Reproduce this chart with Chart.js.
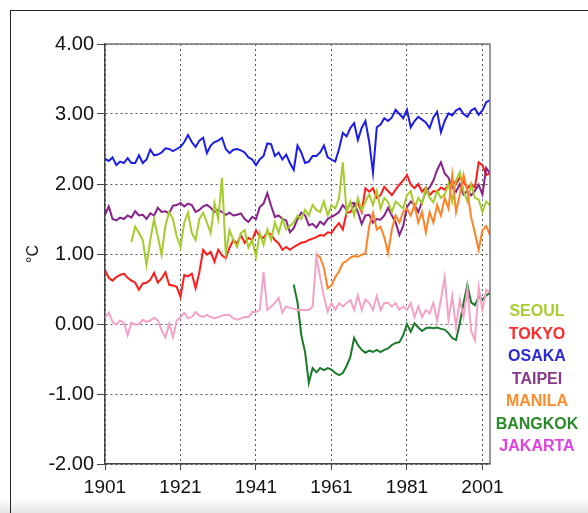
<!DOCTYPE html>
<html>
<head>
<meta charset="utf-8">
<script src="https://cdn.jsdelivr.net/npm/chart.js@4.4.0/dist/chart.umd.min.js"></script>
<style>
  html, body { margin: 0; padding: 0; background: #fff; }
  #wrap { position: relative; width: 588px; height: 513px; overflow: hidden; }
  #shade { position: absolute; left: 0; right: 0; bottom: 0; height: 14px; background: linear-gradient(#fff, #e4e4e4); }
  #frame { position: absolute; left: 10px; top: 10px; right: -2px; bottom: -2px; border-left: 1px solid #222; border-top: 1px solid #222; }
  canvas { position: absolute; left: 0; top: 0; }
</style>
</head>
<body>
<div id="wrap">
  <div id="shade"></div>
  <div id="frame"></div>
  <canvas id="temp-canvas" width="588" height="513"></canvas>
</div>
<script>
// annual temperature anomaly series, 1901-2003
var firstYear = 1901;
var lastYear = 2003;
var xTicks = [1901, 1921, 1941, 1961, 1981, 2001];

var cities = ['SEOUL', 'TOKYO', 'OSAKA', 'TAIPEI', 'MANILA', 'BANGKOK', 'JAKARTA'];
var lineColors = ['#a4cc2c', '#ff1c1c', '#1c1ce8', '#86228a', '#ff8226', '#1a7a2c', '#f4a2c6'];
var legendColors = ['#a8cc30', '#ff2a2a', '#2a2ad8', '#8b3a8b', '#ff8c2a', '#2a8a2a', '#e040e0'];

var osaka = [
  2.36, 2.33, 2.38, 2.27, 2.32, 2.30, 2.37, 2.30, 2.30, 2.41,
  2.30, 2.35, 2.49, 2.41, 2.42, 2.45, 2.51, 2.50, 2.47, 2.50,
  2.53, 2.60, 2.70, 2.60, 2.53, 2.62, 2.66, 2.44, 2.55, 2.60,
  2.62, 2.66, 2.50, 2.44, 2.49, 2.50, 2.48, 2.45, 2.38, 2.35,
  2.27, 2.35, 2.40, 2.58, 2.57, 2.40, 2.45, 2.35, 2.42, 2.30,
  2.20, 2.55, 2.45, 2.30, 2.32, 2.40, 2.40, 2.45, 2.55, 2.38,
  2.35, 2.32, 2.50, 2.73, 2.68, 2.80, 2.87, 2.63, 2.80, 2.90,
  2.60, 2.16, 2.81, 2.85, 2.94, 2.90, 2.95, 3.06, 3.00, 2.94,
  3.06, 2.81, 2.90, 2.96, 2.92, 2.88, 2.80, 2.95, 3.03, 2.74,
  2.90, 3.01, 2.98, 3.05, 3.08, 3.00, 2.96, 3.05, 3.08, 2.99,
  3.05, 3.17, 3.20
];

var taipei = [
  1.56, 1.68, 1.50, 1.48, 1.52, 1.50, 1.55, 1.52, 1.61, 1.55,
  1.56, 1.50, 1.58, 1.55, 1.66, 1.60, 1.61, 1.58, 1.69, 1.70,
  1.73, 1.68, 1.72, 1.70, 1.60, 1.63, 1.68, 1.70, 1.66, 1.60,
  1.63, 1.60, 1.56, 1.59, 1.55, 1.56, 1.58, 1.50, 1.46, 1.53,
  1.50, 1.67, 1.72, 1.87, 1.69, 1.53, 1.55, 1.50, 1.48, 1.31,
  1.37, 1.50, 1.59, 1.55, 1.41, 1.43, 1.38, 1.46, 1.42, 1.50,
  1.53, 1.56, 1.60, 1.70, 1.63, 1.72, 1.73, 1.60, 1.43, 1.55,
  1.56, 1.45, 1.50, 1.49, 1.55, 1.66, 1.55, 1.45, 1.27, 1.40,
  1.67, 1.75, 1.70, 1.60, 1.75, 1.89, 1.95, 2.05, 2.20, 2.31,
  2.15, 2.09, 1.95, 1.89, 2.00, 1.85, 1.90, 1.84, 1.90, 1.99,
  1.85, 2.23, 2.15
];

var tokyo = [
  0.77, 0.66, 0.62, 0.67, 0.70, 0.72, 0.66, 0.62, 0.59, 0.49,
  0.58, 0.59, 0.63, 0.73, 0.59, 0.65, 0.74, 0.56, 0.55, 0.53,
  0.39, 0.70, 0.68, 0.72, 0.51, 0.74, 1.06, 0.99, 1.03, 0.89,
  1.06, 0.98, 0.94, 1.09, 1.20, 1.15, 1.27, 1.16, 1.23, 1.20,
  1.34, 1.25, 1.23, 1.31, 1.28, 1.20, 1.15, 1.06, 1.10, 1.06,
  1.10, 1.13, 1.16, 1.17, 1.20, 1.22, 1.24, 1.27, 1.26, 1.31,
  1.30, 1.38, 1.44, 1.35, 1.59, 1.60, 1.70, 1.73, 1.60, 1.94,
  1.89, 1.94, 1.80, 1.84, 1.96, 1.90, 1.84, 1.92, 1.99, 2.05,
  2.13, 1.99, 1.94, 2.00, 1.89, 1.95, 1.84, 1.90, 1.89, 1.95,
  1.92, 1.99, 2.05, 2.00, 2.09, 2.03, 1.94, 2.00, 1.95, 2.31,
  2.27, 2.13, 2.15
];

var seoulStart = 1908;
var seoul = [
  1.17, 1.39, 1.30,
  1.20, 0.84, 1.20, 1.50, 1.25, 0.99, 1.40, 1.60, 1.50, 1.25,
  1.10, 1.45, 1.59, 1.30, 1.20, 1.50, 1.59, 1.45, 1.30, 1.73,
  1.50, 2.09, 1.00, 1.34, 1.20, 1.10, 1.30, 1.34, 1.09, 1.20,
  0.96, 1.30, 1.13, 1.35, 1.20, 1.45, 1.30, 1.50, 1.35, 1.40,
  1.45, 1.55, 1.50, 1.63, 1.55, 1.70, 1.63, 1.60, 1.75, 1.55,
  1.70, 1.65, 1.80, 2.31, 1.60, 1.75, 1.55, 1.80, 1.62, 1.75,
  1.85, 1.70, 1.90, 1.65, 1.80, 1.74, 1.60, 1.75, 1.70, 1.65,
  1.84, 1.90, 1.66, 1.80, 1.72, 1.94, 1.80, 1.74, 1.90, 1.80,
  1.85, 2.00, 1.75, 2.05, 2.17, 1.90, 1.75, 2.00, 1.80, 1.78,
  1.60, 1.75, 1.70
];

var manilaStart = 1957;
var manila = [
  1.00, 0.95, 0.80, 0.51,
  0.55, 0.67, 0.75, 0.87, 0.90, 0.95, 0.97, 0.96, 0.99, 1.01,
  1.40, 1.59, 1.35, 1.39, 1.24, 1.01, 1.35, 1.55, 1.45, 1.60,
  1.65, 1.55, 1.70, 1.45, 1.60, 1.31, 1.60, 1.45, 1.70, 1.55,
  1.80, 1.65, 2.13, 1.60, 1.85, 2.13, 1.90, 1.53, 1.30, 1.06,
  1.34, 1.40, 1.27
];

var bangkokStart = 1951;
var bangkok = [
  0.56, 0.31, -0.16, -0.40, -0.84, -0.63, -0.69, -0.63, -0.66, -0.63,
  -0.65, -0.70, -0.73, -0.70, -0.60, -0.47, -0.20, -0.30, -0.37, -0.41,
  -0.38, -0.40, -0.37, -0.40, -0.37, -0.35, -0.30, -0.27, -0.26, -0.16,
  0.00, -0.11, 0.01, -0.05, -0.10, -0.06, -0.05, -0.06, -0.05, -0.07,
  -0.08, -0.13, -0.20, -0.23, 0.01, 0.30, 0.56, 0.31, 0.27, 0.39,
  0.35, 0.41, 0.44
];

var jakarta = [
  0.09, 0.16, 0.03, -0.01, 0.05, 0.02, -0.16, 0.02, -0.01, 0.00,
  0.06, 0.03, 0.05, 0.09, 0.05, -0.09, -0.19, 0.00, -0.19, 0.05,
  0.10, 0.16, 0.08, 0.10, 0.17, 0.12, 0.10, 0.13, 0.10, 0.08,
  0.10, 0.12, 0.13, 0.13, 0.08, 0.06, 0.08, 0.10, 0.10, 0.17,
  0.17, 0.20, 0.74, 0.20, 0.25, 0.30, 0.37, 0.16, 0.25, 0.23,
  0.22, 0.20, 0.20, 0.20, 0.20, 0.25, 0.96, 0.67, 0.39, 0.18,
  0.30, 0.20, 0.30, 0.25, 0.30, 0.34, 0.20, 0.41, 0.20, 0.35,
  0.30, 0.20, 0.40, 0.20, 0.30, 0.30, 0.25, 0.30, 0.20, 0.25,
  0.20, 0.30, 0.10, 0.25, 0.10, 0.20, 0.15, 0.30, 0.05, 0.35,
  0.67, 0.06, 0.40, -0.05, 0.35, 0.10, 0.50, -0.10, -0.23, 0.53,
  0.20, 0.49, 0.45
];

// year labels for the linear x axis
var years = [];
for (var y = firstYear; y <= lastYear; y++) years.push(y);

// pad a late-starting series with nulls so it lines up with the years
function fromYear(start, values) {
  var out = [];
  for (var y = firstYear; y < start; y++) out.push(null);
  return out.concat(values);
}

var seriesByCity = {
  SEOUL: fromYear(seoulStart, seoul),
  TOKYO: tokyo,
  OSAKA: osaka,
  TAIPEI: taipei,
  MANILA: fromYear(manilaStart, manila),
  BANGKOK: fromYear(bangkokStart, bangkok),
  JAKARTA: jakarta
};

// draw order: back to front
var drawOrder = ['JAKARTA', 'BANGKOK', 'MANILA', 'SEOUL', 'TAIPEI', 'TOKYO', 'OSAKA'];

let datasets = drawOrder.map(function (name) {
  var i = cities.indexOf(name);
  return {
    label: name,
    data: seriesByCity[name],
    borderColor: lineColors[i],
    backgroundColor: lineColors[i],
    borderWidth: 2,
    pointRadius: 0,
    tension: 0
  };
});

// box around the plot and the coloured city list
const plotFrame = {
  id: 'plotFrame',
  afterDatasetsDraw(chart) {
    const a = chart.chartArea;
    const ctx = chart.ctx;
    ctx.save();
    ctx.strokeStyle = '#777';
    ctx.lineWidth = 1.5;
    ctx.beginPath();
    ctx.moveTo(a.left, a.top);
    ctx.lineTo(a.right, a.top);
    ctx.lineTo(a.right, a.bottom);
    ctx.stroke();
    ctx.restore();
  }
};

const cityLegend = {
  id: 'cityLegend',
  afterDraw(chart) {
    const a = chart.chartArea;
    const ctx = chart.ctx;
    ctx.save();
    ctx.font = 'bold 16px "Liberation Sans", Arial, sans-serif';
    ctx.textAlign = 'center';
    ctx.textBaseline = 'middle';
    cities.forEach(function (c, i) {
      ctx.fillStyle = legendColors[i];
      ctx.fillText(c, a.right + 47, 312 + i * 22.5);
    });
    ctx.restore();
  }
};

let config = {
  type: 'line',
  data: { labels: years, datasets: datasets },
  options: {
    responsive: false,
    animation: false,
    layout: { padding: { left: 20, top: 44, right: 98, bottom: 9 } },
    plugins: { legend: { display: false }, tooltip: { enabled: false } },
    scales: {
      x: {
        type: 'linear',
        min: firstYear,
        max: lastYear,
        afterBuildTicks: function (scale) {
          scale.ticks = xTicks.map(function (v) { return { value: v }; });
        },
        afterFit: function (scale) { scale.height = 40; },
        ticks: {
          autoSkip: false,
          maxRotation: 0,
          padding: 6,
          color: '#111',
          font: { family: '"Liberation Sans", Arial, sans-serif', size: 19 },
          callback: function (v) { return String(v); }
        },
        grid: { color: '#555', lineWidth: 1, tickLength: 6, tickColor: '#444' },
        border: { color: '#444', width: 1.5, dash: [2, 3] }
      },
      y: {
        min: -2,
        max: 4,
        afterFit: function (scale) { scale.width = 85; },
        ticks: {
          stepSize: 1,
          padding: 3,
          color: '#111',
          font: { family: '"Liberation Sans", Arial, sans-serif', size: 20 },
          callback: function (v) { return v.toFixed(2); }
        },
        grid: { color: '#555', lineWidth: 1, tickLength: 8, tickColor: '#444' },
        border: { color: '#444', width: 1.5, dash: [2, 3] },
        title: {
          display: true,
          text: '°C',
          color: '#111',
          font: { family: '"Liberation Sans", Arial, sans-serif', size: 16 }
        }
      }
    }
  },
  plugins: [plotFrame, cityLegend]
};

let tempChart = new Chart(document.querySelector('#temp-canvas'), config);
</script>
</body>
</html>
